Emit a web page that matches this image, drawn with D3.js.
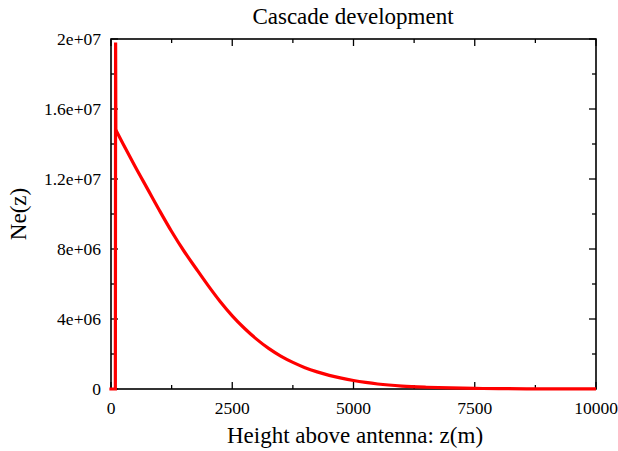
<!DOCTYPE html>
<html><head><meta charset="utf-8">
<script src="https://cdn.jsdelivr.net/npm/d3@7"></script>
<style>body{margin:0;background:#fff}svg{display:block}text{font-family:"Liberation Serif","DejaVu Serif",serif;fill:#000}</style>
</head><body><svg id="c" width="618" height="451"></svg>
<script>
const title = "Cascade development";
const xLabel = "Height above antenna: z(m)";
const yLabel = "Ne(z)";
const xTicks = [0, 2500, 5000, 7500, 10000];
const yTicks = [0, 4e6, 8e6, 1.2e7, 1.6e7, 2e7];
const yTickLabels = ["0", "4e+06", "8e+06", "1.2e+07", "1.6e+07", "2e+07"];
// initial spike
const spikeZ = [0, 90, 95, 100];
const spikeNe = [0, 0, 1.98e7, 1.48e7];
// decaying tail
const tailZ = [100, 250, 500, 750, 1000, 1250, 1500, 1750, 2000, 2250, 2500, 2750, 3000, 3250, 3500, 3750, 4000, 4250, 4500, 4750, 5000, 5250, 5500, 6000, 6500, 7000, 7500, 8000, 9000, 10000];
const tailNe = [1.48e7, 1.40e7, 1.27e7, 1.145e7, 1.02e7, 9.0e6, 7.9e6, 6.9e6, 5.92e6, 5.0e6, 4.18e6, 3.47e6, 2.85e6, 2.32e6, 1.88e6, 1.52e6, 1.22e6, 9.8e5, 7.8e5, 6.2e5, 4.85e5, 3.75e5, 2.85e5, 1.65e5, 1.0e5, 6e4, 3.5e4, 2e4, 7e3, 2e3];

const svg = d3.select("#c");
const L = 111, R = 596, T = 39, B = 389;
const x = d3.scaleLinear().domain([0, 10000]).range([L, R]);
const y = d3.scaleLinear().domain([0, 2e7]).range([B, T]);

const g = svg.append("g");
const xMinor = d3.range(1250, 10000, 2500);
const yMinor = d3.range(2e6, 2e7, 4e6);
function tickLines(vals, len, isX) {
  vals.forEach(v => {
    if (isX) {
      g.append("line").attr("x1", x(v)).attr("x2", x(v)).attr("y1", B).attr("y2", B - len).attr("stroke", "#000").attr("stroke-width", 1.3);
      g.append("line").attr("x1", x(v)).attr("x2", x(v)).attr("y1", T).attr("y2", T + len).attr("stroke", "#000").attr("stroke-width", 1.3);
    } else {
      g.append("line").attr("y1", y(v)).attr("y2", y(v)).attr("x1", L).attr("x2", L + len).attr("stroke", "#000").attr("stroke-width", 1.3);
      g.append("line").attr("y1", y(v)).attr("y2", y(v)).attr("x1", R).attr("x2", R - len).attr("stroke", "#000").attr("stroke-width", 1.3);
    }
  });
}
tickLines(xTicks, 7, true);
tickLines(yTicks, 7, false);
tickLines(xMinor, 4, true);
tickLines(yMinor, 4, false);

g.selectAll(".xl").data(xTicks).enter().append("text")
  .attr("x", d => x(d)).attr("y", 414).attr("text-anchor", "middle").attr("font-size", 17.5)
  .text(d => d);
g.selectAll(".yl").data(yTicks).enter().append("text")
  .attr("x", 101).attr("y", d => y(d) + 6).attr("text-anchor", "end").attr("font-size", 17.5)
  .text((d, i) => yTickLabels[i]);

g.append("rect").attr("x", L).attr("y", T).attr("width", R - L).attr("height", B - T)
  .attr("fill", "none").attr("stroke", "#000").attr("stroke-width", 1.6);

const spikeLine = d3.line().x((d, i) => x(spikeZ[i])).y(d => y(d));
const tailLine = d3.line().x((d, i) => x(tailZ[i])).y(d => y(d)).curve(d3.curveMonotoneX);
g.append("path").datum(spikeNe).attr("d", spikeLine).attr("fill", "none").attr("stroke", "#ff0000")
  .attr("stroke-width", 3.2).attr("stroke-linejoin", "miter").attr("stroke-linecap", "square");
g.append("path").datum(tailNe).attr("d", tailLine).attr("fill", "none").attr("stroke", "#ff0000")
  .attr("stroke-width", 3.2).attr("stroke-linecap", "butt");

svg.append("text").attr("x", 353).attr("y", 24).attr("text-anchor", "middle").attr("font-size", 23).text(title);
svg.append("text").attr("x", 355).attr("y", 443).attr("text-anchor", "middle").attr("font-size", 23).text(xLabel);
svg.append("text").attr("transform", "translate(26,214) rotate(-90)").attr("text-anchor", "middle").attr("font-size", 23).text(yLabel);
</script></body></html>
